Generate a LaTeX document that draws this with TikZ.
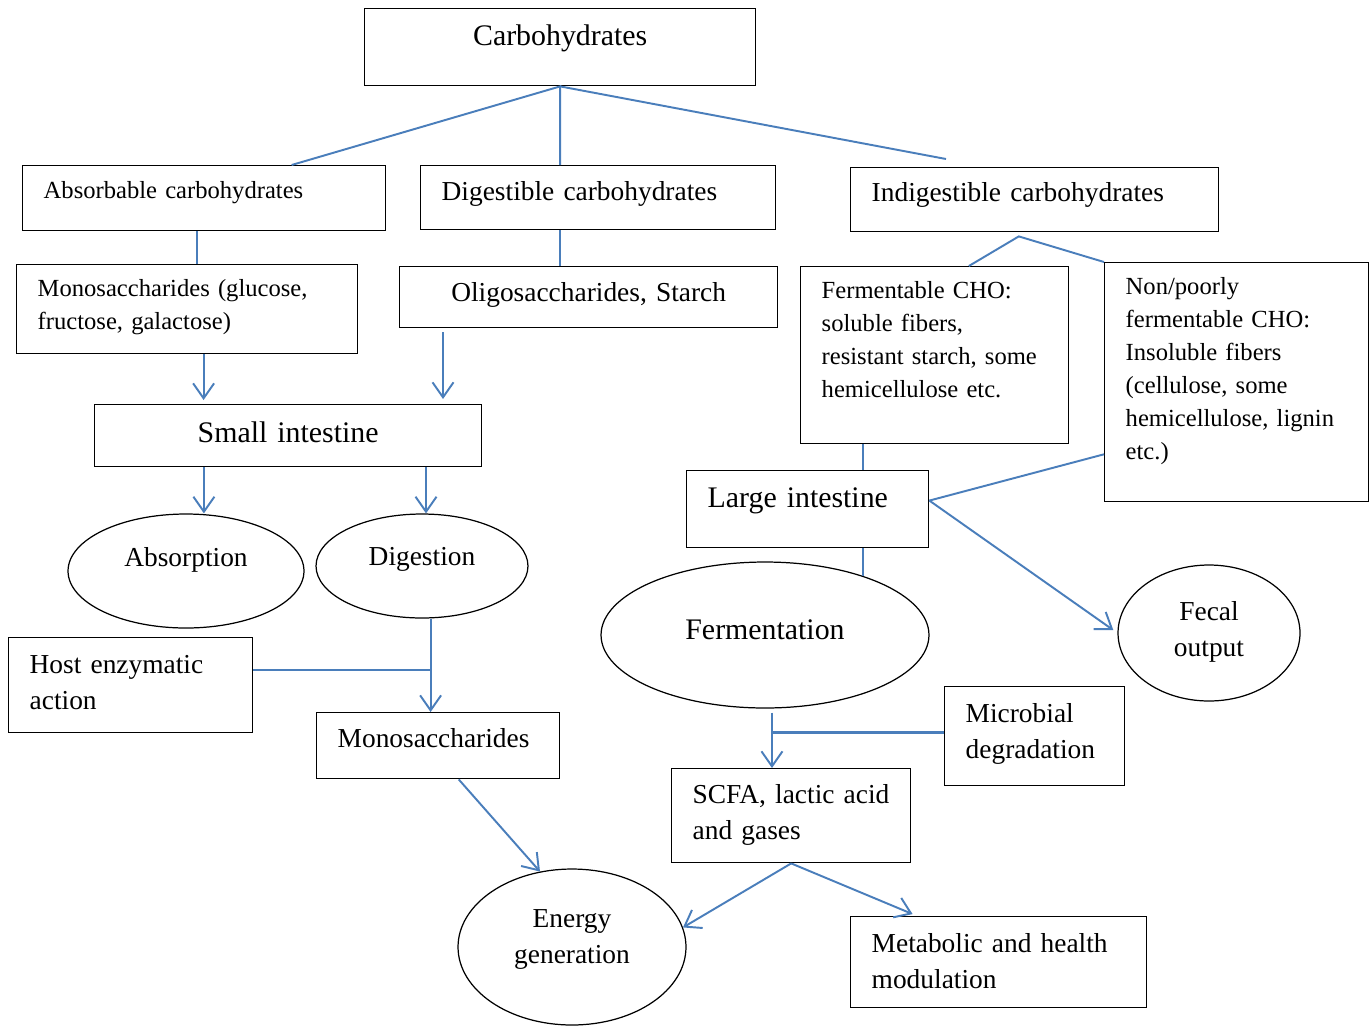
\documentclass[tikz,border=0pt]{standalone}
\usepackage{fontspec}
\setmainfont{Liberation Serif}
\usetikzlibrary{arrows.meta, calc, shapes.geometric}
\definecolor{linkblue}{HTML}{4A7EBB}
\tikzset{
  x=0.02cm, y=-0.02cm,
  blk/.style={draw, line width=0.8pt, anchor=north west, inner xsep=0.42cm, inner ysep=0pt, align=left},
  oval/.style={draw, ellipse, line width=0.7pt, inner sep=0pt, align=center},
  fL/.style={font=\fontsize{17}{21}\selectfont},
  fM/.style={font=\fontsize{15.6}{20.5}\selectfont},
  fS/.style={font=\fontsize{14}{18.8}\selectfont},
  link/.style={linkblue, line width=1.1pt},
  flow/.style={link, -{Straight Barb[length=0.3cm, width=0.42cm]}}
}

\begin{document}
\begin{tikzpicture}
  \path[use as bounding box, fill=white] (0,0) rectangle (1371,1025);

  % boxes, top to bottom
  \node[blk, fL, align=center, text width=6.98cm, text height=0.74cm, text depth=0.80cm] (carb) at (364,8) {Carbohydrates};
  \node[blk, fS, text width=6.42cm, text height=0.66cm, text depth=0.64cm] (absorb) at (22,165) {Absorbable carbohydrates};
  \node[blk, fM, text width=6.26cm, text height=0.70cm, text depth=0.58cm] (digest) at (420,165) {Digestible carbohydrates};
  \node[blk, fM, text width=6.52cm, text height=0.68cm, text depth=0.60cm] (indig) at (850,167) {Indigestible carbohydrates};
  \node[blk, fS, text width=5.98cm, text height=0.64cm, text depth=1.14cm] (monoa) at (16,264) {Monosaccharides (glucose,\\ fructose, galactose)};
  \node[blk, fM, align=center, text width=6.72cm, text height=0.70cm, text depth=0.52cm] (oligo) at (399,266) {Oligosaccharides, Starch};
  \node[blk, fS, text width=4.52cm, text height=0.64cm, text depth=2.90cm] (fermc) at (800,266) {Fermentable CHO:\\ soluble fibers,\\ resistant starch, some\\ hemicellulose etc.};
  \node[blk, fS, text width=4.44cm, text height=0.64cm, text depth=4.14cm] (nonf) at (1104,262) {Non/poorly\\ fermentable CHO:\\ Insoluble fibers\\ (cellulose, some\\ hemicellulose, lignin\\ etc.)};
  \node[blk, fL, align=center, text width=6.90cm, text height=0.76cm, text depth=0.48cm] (small) at (94,404) {Small intestine};
  \node[blk, fL, text width=4.00cm, text height=0.74cm, text depth=0.80cm] (large) at (686,470) {Large intestine};
  \node[blk, fM, text width=4.04cm, text height=0.72cm, text depth=1.18cm] (host) at (8,637) {Host enzymatic\\ action};
  \node[blk, fM, text width=4.02cm, text height=0.70cm, text depth=0.62cm] (monos) at (316,712) {Monosaccharides};
  \node[blk, fM, text width=2.76cm, text height=0.72cm, text depth=1.26cm] (micro) at (944,686) {Microbial\\ \mbox{degradation}};
  \node[blk, fM, text width=3.94cm, text height=0.70cm, text depth=1.18cm] (scfa) at (671,768) {\mbox{SCFA, lactic acid}\\ and gases};
  \node[blk, fM, text width=5.08cm, text height=0.72cm, text depth=1.10cm] (metab) at (850,916) {Metabolic and health\\ modulation};

  % ellipses
  \node[oval, fM, minimum width=4.72cm, minimum height=2.28cm, text height=0.3cm, text depth=0.5cm] (absn) at (186,571) {Absorption};
  \node[oval, fM, minimum width=4.24cm, minimum height=2.08cm, text height=0.3cm, text depth=0.34cm] (dign) at (422,566) {Digestion};
  \node[oval, fL, minimum width=6.56cm, minimum height=2.92cm, text height=0.4cm, text depth=0.24cm] (fermn) at (765,635) {Fermentation};
  \node[oval, fM, text width=2cm, minimum width=3.64cm, minimum height=2.72cm, text height=0.3cm, text depth=0.82cm] (fecal) at (1209,633) {Fecal\\ output};
  \node[oval, fM, text width=2.6cm, minimum width=4.56cm, minimum height=3.12cm, text height=0.3cm, text depth=1.1cm] (energy) at (572,947) {Energy\\ generation};

  % connectors
  \draw[link] ($(absorb.north west)!0.74!(absorb.north east)$) -- (carb.south) -- (carb.south |- digest.north);
  \draw[link] (carb.south) -- ($(indig.north west)!0.26!(indig.north east)+(0,-8)$);
  \coordinate (ia) at ($(indig.south west)!0.457!(indig.south east)+(0,4)$);
  \draw[link] ($(fermc.north west)!0.627!(fermc.north east)$) -- (ia) -- (nonf.north west);

  \coordinate (a0) at ($(absorb.south west)!0.48!(absorb.south east)$);
  \draw[link] (a0) -- (a0 |- monoa.north);
  \coordinate (g0) at ($(digest.south west)!0.394!(digest.south east)$);
  \draw[link] (g0) -- (g0 |- oligo.north);

  \coordinate (m0) at ($(monoa.south west)!0.548!(monoa.south east)$);
  \draw[flow, shorten >=0.08cm] (m0) -- (m0 |- small.north);
  \coordinate (o0) at ($(oligo.south west)!0.116!(oligo.south east)$);
  \draw[flow, shorten <=0.08cm, shorten >=0.1cm] (o0) -- (o0 |- small.north);
  \coordinate (s0) at ($(small.south west)!0.283!(small.south east)$);
  \coordinate (s1) at ($(small.south west)!0.855!(small.south east)$);
  \draw[flow] (s0) -- (s0 |- absn.north);
  \draw[flow] (s1) -- (s1 |- dign.north);

  \coordinate (f0) at ($(fermc.south west)!0.235!(fermc.south east)$);
  \draw[link] (f0) -- (f0 |- large.north);
  \coordinate (lr) at ($(large.north east)!0.39!(large.south east)$);
  \draw[link] ($(nonf.north west)!0.80!(nonf.south west)$) -- (lr);
  \draw[flow, shorten >=0.1cm] (lr) -- (fecal.west);
  \coordinate (l0) at ($(large.south west)!0.727!(large.south east)$);
  \draw[link] (l0) -- (l0 |- fermn.31);

  \coordinate (d0) at ($(monos.north west)!0.469!(monos.north east)$);
  \draw[flow] (d0 |- dign.south) -- (d0);
  \coordinate (hj) at ($(host.north east)!0.34!(host.south east)$);
  \draw[link] (hj) -- (hj -| d0);
  \draw[flow] ($(monos.south west)!0.584!(monos.south east)$) -- (energy.113);

  \coordinate (c0) at ($(scfa.north west)!0.42!(scfa.north east)$);
  \draw[flow, shorten <=0.08cm] (c0 |- fermn.south) -- (c0);
  \coordinate (mj) at ($(micro.north west)!0.465!(micro.south west)$);
  \draw[link, line width=1.6pt] (mj) -- (mj -| c0);
  \draw[flow] (scfa.south) -- (energy.10);
  \draw[flow, shorten >=0.1cm] (scfa.south) -- ($(metab.north west)!0.226!(metab.north east)$);
\end{tikzpicture}
\end{document}
